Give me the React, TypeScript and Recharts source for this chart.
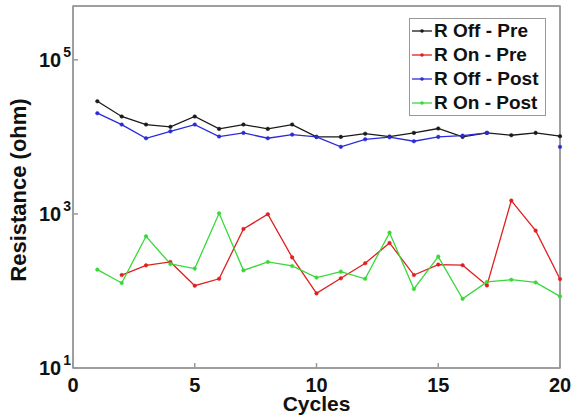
import React from 'react';
import { LineChart, Line, XAxis, YAxis, Legend, ReferenceArea } from 'recharts';

const FONT = '"Liberation Sans", Arial, Helvetica, sans-serif';
const AXIS_COLOR = '#999999';
const TEXT_COLOR = '#111111';

// Cycle numbers along the x axis
const cycles = [1, 2, 3, 4, 5, 6, 7, 8, 9, 10, 11, 12, 13, 14, 15, 16, 17, 18, 19, 20];

// Resistance readings in ohm (null = no reading for that cycle)
const rOffPre = [29000, 18400, 14450, 13500, 18400, 12700, 14450, 12700, 14450, 10000, 10000, 11000, 10100, 11270, 12850, 10000, 11270, 10500, 11270, 10200];
const rOnPre = [null, 161, 215, 238, 117, 144, 638, 990, 273, 93, 146, 229, 420, 161, 220, 216, 118, 1490, 607, 143];
const rOffPost = [20300, 14450, 9600, 11800, 14450, 10100, 11270, 9600, 10700, 10000, 7420, 9300, 9900, 8780, 10000, 10370, 11270, null, null, 7420];
const rOnPost = [189, 127, 512, 224, 195, 1019, 185, 238, 211, 149, 178, 144, 571, 106, 279, 79, 131, 140, 129, 85];

const seriesNames = ['R Off - Pre', 'R On - Pre', 'R Off - Post', 'R On - Post'];
const seriesColors = ['#1a1a1a', '#e01f1f', '#2b2bd9', '#38d838'];
const seriesKeys = ['rOffPre', 'rOnPre', 'rOffPost', 'rOnPost'];

const xTicks = [0, 5, 10, 15, 20];
const yTicks = [10, 1000, 100000];
const xDomain = [0, 20];
const yDomain = [10, 500000];

const data = cycles.map((c, i) => ({
  cycle: c,
  rOffPre: rOffPre[i],
  rOnPre: rOnPre[i],
  rOffPost: rOffPost[i],
  rOnPost: rOnPost[i],
}));

const XTick = (props: any) => {
  const { x, y, payload } = props;
  return (
    <text x={x} y={y} dy={19} textAnchor="middle" fontFamily={FONT} fontSize={20} fontWeight="bold" fill={TEXT_COLOR}>
      {payload.value}
    </text>
  );
};

const YTick = (props: any) => {
  const { x, y, payload } = props;
  const exp = Math.round(Math.log10(payload.value));
  return (
    <text x={x} y={y} dy={7} textAnchor="end" fontFamily={FONT} fontSize={20} fontWeight="bold" fill={TEXT_COLOR}>
      <tspan>10</tspan>
      <tspan dy={-10} dx={2} fontSize={14}>{exp}</tspan>
    </text>
  );
};

const renderLegend = (props: any) => {
  const payload = [...(props.payload || [])].sort(
    (a: any, b: any) => seriesNames.indexOf(a.value) - seriesNames.indexOf(b.value)
  );
  return (
    <div
      style={{
        boxSizing: 'border-box',
        width: 137,
        height: 98,
        border: `1.5px solid ${AXIS_COLOR}`,
        background: '#ffffff',
        fontFamily: FONT,
        fontWeight: 'bold',
        fontSize: 19,
        color: TEXT_COLOR,
      }}
    >
      {payload.map((entry: any) => (
        <div key={entry.value} style={{ height: 24, display: 'flex', alignItems: 'center' }}>
          <svg width={24} height={24} style={{ flex: 'none' }}>
            <line x1={2} x2={22} y1={12} y2={12} stroke={entry.color} strokeWidth={1.3} />
            <circle cx={12} cy={12} r={1.8} fill={entry.color} />
          </svg>
          <span style={{ lineHeight: '24px', whiteSpace: 'nowrap' }}>{entry.value}</span>
        </div>
      ))}
    </div>
  );
};

export default function App() {
  return (
    <div style={{ position: 'absolute', left: 0, top: 0, background: '#ffffff' }}>
      <LineChart width={587} height={419} data={data} margin={{ top: 5, right: 26, bottom: 0, left: 0 }}>
        <XAxis
          xAxisId="bottom"
          dataKey="cycle"
          type="number"
          domain={xDomain}
          ticks={xTicks}
          height={51}
          tickSize={-5}
          tickMargin={10}
          tick={<XTick />}
          axisLine={{ stroke: AXIS_COLOR, strokeWidth: 1.5 }}
          tickLine={{ stroke: AXIS_COLOR, strokeWidth: 1.5 }}
          label={{
            content: (p: any) => {
              const vb = p.viewBox || {};
              return (
                <text
                  x={vb.x + vb.width / 2}
                  y={vb.y + vb.height - 8}
                  textAnchor="middle"
                  fontFamily={FONT}
                  fontSize={21}
                  fontWeight="bold"
                  fill={TEXT_COLOR}
                >
                  Cycles
                </text>
              );
            },
          }}
        />
        <XAxis
          xAxisId="top"
          orientation="top"
          dataKey="cycle"
          type="number"
          domain={xDomain}
          ticks={xTicks}
          height={1}
          tickSize={-5}
          tick={false}
          axisLine={{ stroke: AXIS_COLOR, strokeWidth: 1.5 }}
          tickLine={{ stroke: AXIS_COLOR, strokeWidth: 1.5 }}
        />
        <YAxis
          yAxisId="left"
          scale="log"
          domain={yDomain}
          allowDataOverflow
          ticks={yTicks}
          width={73}
          tickSize={-5}
          tickMargin={7}
          tick={<YTick />}
          axisLine={{ stroke: AXIS_COLOR, strokeWidth: 1.5 }}
          tickLine={{ stroke: AXIS_COLOR, strokeWidth: 1.5 }}
          label={{
            content: (p: any) => {
              const vb = p.viewBox || {};
              const cx = vb.x + 26;
              const cy = vb.y + vb.height / 2 + 3;
              return (
                <text
                  x={cx}
                  y={cy}
                  transform={`rotate(-90 ${cx} ${cy})`}
                  textAnchor="middle"
                  fontFamily={FONT}
                  fontSize={22}
                  fontWeight="bold"
                  fill={TEXT_COLOR}
                >
                  Resistance (ohm)
                </text>
              );
            },
          }}
        />
        <YAxis
          yAxisId="right"
          orientation="right"
          scale="log"
          domain={yDomain}
          allowDataOverflow
          ticks={yTicks}
          width={1}
          tickSize={-5}
          tick={false}
          axisLine={{ stroke: AXIS_COLOR, strokeWidth: 1.5 }}
          tickLine={{ stroke: AXIS_COLOR, strokeWidth: 1.5 }}
        />
        {/* plot frame */}
        <ReferenceArea
          xAxisId="bottom"
          yAxisId="left"
          x1={xDomain[0]}
          x2={xDomain[1]}
          y1={yDomain[0]}
          y2={yDomain[1]}
          fill="none"
          stroke={AXIS_COLOR}
          strokeWidth={1.5}
          ifOverflow="visible"
        />
        <Legend
          layout="vertical"
          align="center"
          verticalAlign="middle"
          wrapperStyle={{ left: 409, top: 18, width: 137, height: 98 }}
          content={renderLegend}
        />
        {seriesKeys.map((key, i) => (
          <Line
            key={key}
            xAxisId="bottom"
            yAxisId="left"
            type="linear"
            dataKey={key}
            name={seriesNames[i]}
            stroke={seriesColors[i]}
            strokeWidth={1.3}
            dot={{ r: 1.8, fill: seriesColors[i], stroke: seriesColors[i], strokeWidth: 0.5 }}
            activeDot={false}
            connectNulls={false}
            isAnimationActive={false}
          />
        ))}
      </LineChart>
    </div>
  );
}
